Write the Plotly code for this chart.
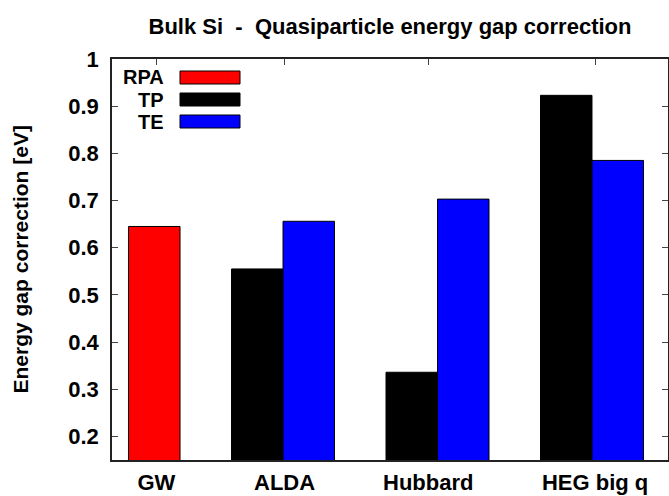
import plotly.graph_objects as go
import numpy as np

# ---- data ----
categories = ["GW", "ALDA", "Hubbard", "HEG big q"]
tick_positions = [0.18, 1.01, 1.94, 3.02]
rpa_cats = ["GW"]
rpa_values = [0.645]
tp_cats = ["ALDA", "Hubbard", "HEG big q"]
tp_values = [0.555, 0.336, 0.923]
te_cats = ["ALDA", "Hubbard", "HEG big q"]
te_values = [0.656, 0.703, 0.785]
series_names = ["RPA", "TP", "TE"]
series_colors = ["#ff0000", "#000000", "#0000ff"]
y_ticks = [0.2, 0.3, 0.4, 0.5, 0.6, 0.7, 0.8, 0.9, 1.0]

FONT = "Liberation Sans, Arial, Helvetica, sans-serif"
W, H = 669, 496
ML, MR, MT, MB = 112, 1, 59, 36
PW, PH = W - ML - MR, H - MT - MB

pos = {c: i for i, c in enumerate(categories)}
bw = 1 / 3

fig = go.Figure()
for name, cats, vals, off, col in [
    ("RPA", rpa_cats, rpa_values, 0.0, series_colors[0]),
    ("TP", tp_cats, tp_values, -bw, series_colors[1]),
    ("TE", te_cats, te_values, 0.0, series_colors[2]),
]:
    fig.add_trace(go.Bar(
        x=[pos[c] for c in cats], y=vals, name=name,
        width=bw, offset=off, base=0,
        marker=dict(color=col, line=dict(color="#000000", width=1)),
        showlegend=False,
    ))

fig.update_layout(
    width=W, height=H,
    margin=dict(l=ML, r=MR, t=MT, b=MB, autoexpand=False),
    plot_bgcolor="white", paper_bgcolor="white",
    barmode="overlay",
    font=dict(family=FONT, color="#000000"),
    title=dict(
        text="Bulk Si  -  Quasiparticle energy gap correction",
        font=dict(family=FONT, size=22, weight="bold", color="#000"),
        x=0.5, xref="paper", y=1 - 26 / H, yref="container", yanchor="middle",
    ),
)

fig.update_xaxes(
    range=[-0.107, 3.492], tickvals=tick_positions, ticktext=categories,
    ticks="inside", ticklen=6, tickwidth=1, tickcolor="#444",
    showline=True, linecolor="#222", linewidth=1.5, mirror="ticks",
    showgrid=False, zeroline=False, layer="below traces",
    tickfont=dict(family=FONT, size=22, weight="bold"),
    ticklabelstandoff=2,
)
fig.update_yaxes(
    range=[0.15, 1.0], tickvals=y_ticks, ticktext=[f"{v:g}" for v in y_ticks],
    ticks="inside", ticklen=6, tickwidth=1, tickcolor="#444",
    showline=True, linecolor="#222", linewidth=1.5, mirror="ticks",
    showgrid=False, zeroline=False,
    tickfont=dict(family=FONT, size=22, weight="bold"),
    ticklabelstandoff=7,
)

# y-axis title
fig.add_annotation(
    text="Energy gap correction [eV]", textangle=-90,
    xref="paper", yref="paper", x=(20 - ML) / PW, y=0.5,
    xanchor="center", yanchor="middle", showarrow=False,
    font=dict(family=FONT, size=21, weight="bold"),
)

# key (text left of sample, gnuplot style)
for i, (name, col) in enumerate(zip(series_names, series_colors)):
    cy = 77.5 + 22 * i
    fig.add_annotation(
        text=name, xref="paper", yref="paper",
        x=(166 - ML) / PW, y=(H - MB - cy) / PH,
        xanchor="right", yanchor="middle", showarrow=False,
        font=dict(family=FONT, size=20, weight="bold"),
    )
    fig.add_shape(
        type="rect", xref="paper", yref="paper",
        x0=(180 - ML) / PW, x1=(240 - ML) / PW,
        y0=(H - MB - cy - 6.5) / PH, y1=(H - MB - cy + 6.5) / PH,
        fillcolor=col, line=dict(color="#000", width=1),
    )

fig.write_html(
    "out.html",
    config={"displayModeBar": False},
    post_script="document.body.style.margin='0';document.body.style.overflow='hidden';",
)
